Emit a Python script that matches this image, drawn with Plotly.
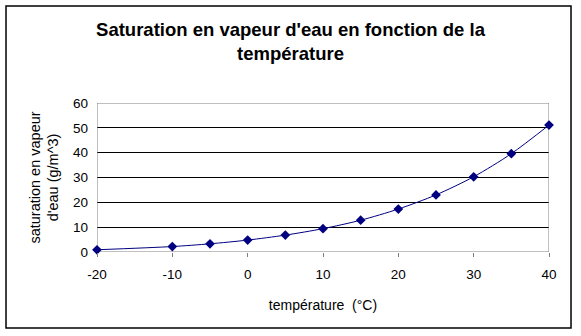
import plotly.graph_objects as go

temperature = [-20, -10, -5, 0, 5, 10, 15, 20, 25, 30, 35, 40]
saturation = [0.9, 2.2, 3.3, 4.8, 6.8, 9.4, 12.8, 17.3, 23.0, 30.3, 39.6, 51.1]
x_ticks = [-20, -10, 0, 10, 20, 30, 40]
y_ticks = [0, 10, 20, 30, 40, 50, 60]

title_text = "Saturation en vapeur d'eau en fonction de la<br>température"
x_title = "température  (°C)"
y_title = "saturation en vapeur<br>d'eau (g/m^3)"

FONT = "Liberation Sans, Arial, sans-serif"
NAVY = "#000080"

fig = go.Figure()
fig.add_trace(go.Scatter(
    x=temperature, y=saturation, mode="lines+markers",
    line=dict(color=NAVY, width=1, shape="spline", smoothing=0.8),
    marker=dict(symbol="diamond", size=7.5, color=NAVY),
    showlegend=False, cliponaxis=False,
))

fig.update_layout(
    width=581, height=336,
    margin=dict(l=97, r=32, t=103, b=84),
    paper_bgcolor="white", plot_bgcolor="white",
    font=dict(family=FONT, size=13, color="black"),
    title=dict(text=title_text, x=0.5, xanchor="center", y=0.893, yanchor="top",
               font=dict(family=FONT, size=18.5, color="black", weight="bold")),
    xaxis=dict(range=[-20, 40], tickvals=x_ticks, ticktext=[str(v) for v in x_ticks],
               showgrid=False, zeroline=False,
               showline=False, ticks="outside", ticklen=4, tickcolor="#808080",
               tickfont=dict(size=13.5, color="black"), ticklabelstandoff=6,
               title=dict(text=x_title, font=dict(size=14, color="black"), standoff=18)),
    yaxis=dict(range=[0, 60], tickvals=y_ticks, showgrid=True, gridcolor="black",
               gridwidth=1, zeroline=False, showline=False, ticks="",
               tickfont=dict(size=13.5, color="black"), ticklabelstandoff=8,
               title=dict(text=y_title, font=dict(size=14.5, color="black"), standoff=10)),
    shapes=[
        dict(type="rect", xref="x", yref="y", x0=-20, x1=40, y0=0, y1=60,
             line=dict(color="#808080", width=1), layer="between"),
        dict(type="rect", xref="paper", yref="paper", x0=-0.2013, x1=1.0487,
             y0=-0.510, y1=1.651, line=dict(color="black", width=1.5)),
    ],
)

fig.write_html("out.html")
